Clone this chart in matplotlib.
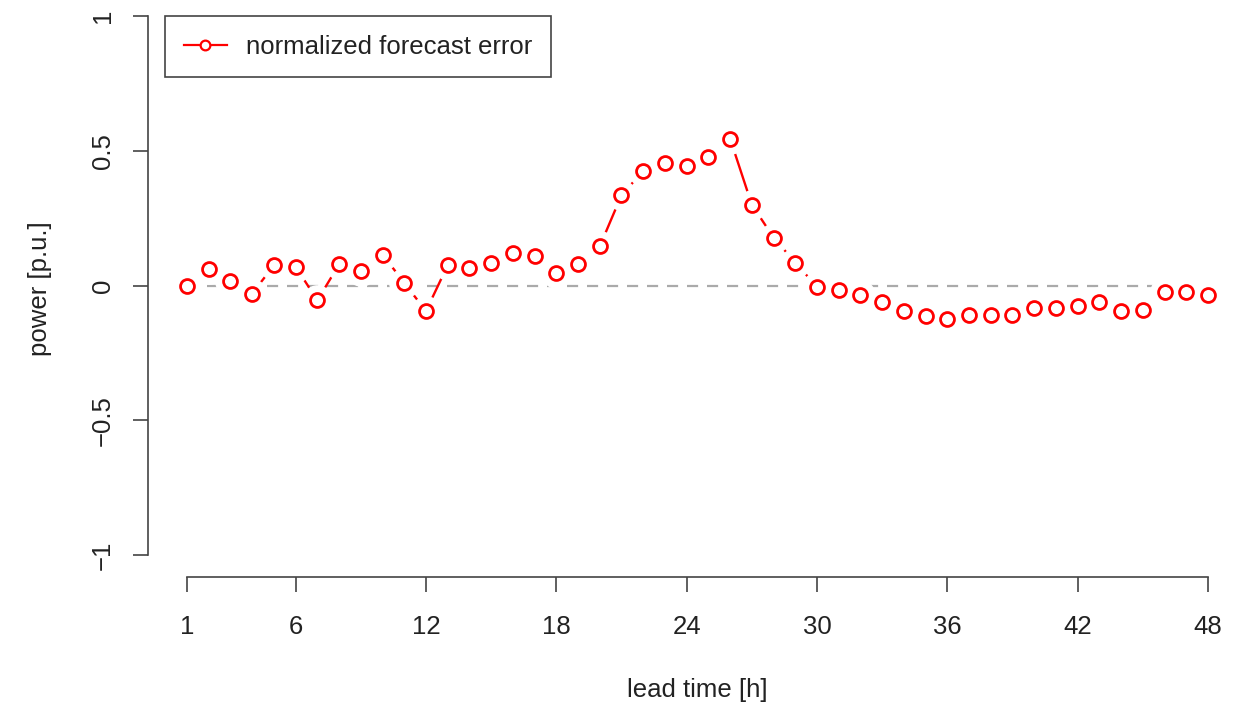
import matplotlib
matplotlib.use("Agg")
import matplotlib.pyplot as plt
from matplotlib.lines import Line2D

# lead times and normalized forecast error
lead_time = list(range(1, 49))
error = [0.0, 0.06, 0.015, -0.03, 0.075, 0.07, -0.055, 0.078, 0.055, 0.115,
         0.01, -0.095, 0.075, 0.065, 0.085, 0.12, 0.11, 0.048, 0.078, 0.145,
         0.335, 0.425, 0.455, 0.445, 0.475, 0.545, 0.30, 0.178, 0.085, -0.005,
         -0.015, -0.037, -0.063, -0.095, -0.115, -0.125, -0.11, -0.11, -0.11, -0.082,
         -0.082, -0.075, -0.063, -0.093, -0.09, -0.025, -0.025, -0.035]
xticks = [1, 6, 12, 18, 24, 30, 36, 42, 48]
yticks = [-1, -0.5, 0, 0.5, 1]
ytick_labels = ["\u22121", "\u22120.5", "0", "0.5", "1"]

plt.rcParams['font.family'] = ['Liberation Sans', 'DejaVu Sans']
fs = 18.5
fig = plt.figure(figsize=(12.46, 7.08), dpi=100)
ax = fig.add_axes([148/1246, 1 - 577/708, 1 - 148/1246, 577/708])

red = "#ff0000"
ax.plot([1, 48], [0, 0], color="#aaaaaa", lw=1.6, ls=(0, (5, 4)), zorder=1)
# type="b" look: line broken around every point
ax.plot(lead_time, error, color=red, lw=1.7, zorder=2)
ax.plot(lead_time, error, ls="none", marker="o", ms=21, mfc="white", mec="white", zorder=3)
ax.plot(lead_time, error, ls="none", marker="o", ms=10, mfc="white", mec=red, mew=2, zorder=4)

ax.set_xlim(1 - 39/21.72, 48 + 38/21.72)
ax.set_ylim(-1 - 22/269.5, 1 + 16/269.5)

for s in ["top", "right"]:
    ax.spines[s].set_visible(False)
ax.spines["left"].set_bounds(-1, 1)
ax.spines["bottom"].set_bounds(1, 48)
for s in ["left", "bottom"]:
    ax.spines[s].set_color("#444444")
    ax.spines[s].set_linewidth(1.2)

ax.set_xticks(xticks)
ax.set_yticks(yticks)
ax.set_yticklabels(ytick_labels, rotation=90, va="center")
ax.tick_params(axis="both", length=11, width=1.2, color="#444444", labelsize=fs,
               labelcolor="#222222")
ax.tick_params(axis="x", pad=16)
ax.tick_params(axis="y", pad=13)

ax.set_xlabel("lead time [h]", fontsize=fs, color="#222222", va="center")
ax.xaxis.set_label_coords(0.5, (577 - 690) / 577)
ax.set_ylabel("power [p.u.]", fontsize=fs, color="#222222", va="center")
ax.yaxis.set_label_coords((40 - 148) / 1098, 0.5)

handle = Line2D([0], [0], color=red, lw=1.6, marker="o", ms=7, mfc="white", mec=red, mew=1.6)
leg = ax.legend([handle], ["normalized forecast error"], loc="upper left",
                bbox_to_anchor=(17/1098, 1 - 16/577), fontsize=fs, fancybox=False,
                framealpha=1, edgecolor="#444444", borderpad=0.72, handlelength=1.7,
                handletextpad=0.75, borderaxespad=0)
leg.get_frame().set_linewidth(1.2)
for t in leg.get_texts():
    t.set_color("#222222")

fig.savefig("out.png", dpi=100)
